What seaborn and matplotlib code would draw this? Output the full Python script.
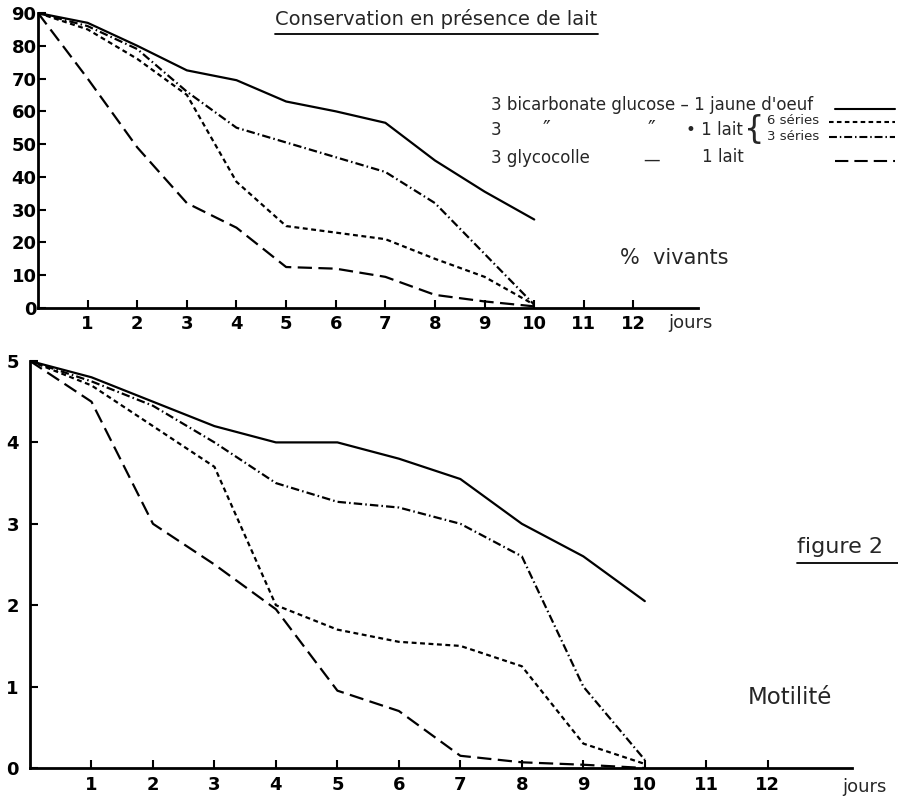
import numpy as np
import pandas as pd
import seaborn as sns
import matplotlib.pyplot as plt
from matplotlib.lines import Line2D

# %%
# data
jours = list(range(11))
series = ["jaune", "lait6", "lait3", "glyco"]

# % vivants
viv_jaune = [90, 87, 80, 72.5, 69.5, 63, 60, 56.5, 45, 35.5, 27]
viv_lait6 = [90, 85, 76, 65, 38.5, 25, 23, 21, 15, 9.5, 1]
viv_lait3 = [90, 86, 79, 66, 55, 50.5, 46, 41.5, 32, 16.5, 1]
viv_glyco = [90, 70, 49, 32, 24.5, 12.5, 12, 9.5, 4, 2, 0.5]

# motilite
mot_jaune = [5, 4.8, 4.5, 4.2, 4.0, 4.0, 3.8, 3.55, 3.0, 2.6, 2.05]
mot_lait6 = [5, 4.7, 4.2, 3.7, 2.0, 1.7, 1.55, 1.5, 1.25, 0.3, 0.05]
mot_lait3 = [5, 4.75, 4.45, 4.0, 3.5, 3.27, 3.2, 3.0, 2.6, 1.0, 0.1]
mot_glyco = [5, 4.5, 3.0, 2.5, 1.95, 0.95, 0.7, 0.15, 0.07, 0.04, 0.0]

dash_styles = {
    "jaune": "",
    "lait6": (2.2, 1.6),
    "lait3": (3.8, 1.4, 0.7, 1.4),
    "glyco": (6.4, 2.9),
}

viv = pd.DataFrame(
    {"jour": jours * 4, "serie": np.repeat(series, 11),
     "val": viv_jaune + viv_lait6 + viv_lait3 + viv_glyco}
)
mot = pd.DataFrame(
    {"jour": jours * 4, "serie": np.repeat(series, 11),
     "val": mot_jaune + mot_lait6 + mot_lait3 + mot_glyco}
)

# %%
sns.set_style("ticks")
plt.rcParams["font.family"] = ["DejaVu Sans"]

W, H = 898, 801
fig = plt.figure(figsize=(W / 100, H / 100), dpi=100)


def fbox(x0, y0, x1, y1):
    # pixel box -> figure fraction [left, bottom, width, height]
    return [x0 / W, 1 - y1 / H, (x1 - x0) / W, (y1 - y0) / H]


def fxy(x, y):
    return x / W, 1 - y / H


ax1 = fig.add_axes(fbox(38, 13, 698, 308))
ax2 = fig.add_axes(fbox(30, 361, 852, 768))

for ax, df in [(ax1, viv), (ax2, mot)]:
    sns.lineplot(data=df, x="jour", y="val", style="serie", dashes=dash_styles,
                 color="black", linewidth=1.6, legend=False, ax=ax)
    ax.set_xlabel("")
    ax.set_ylabel("")
    sns.despine(ax=ax)
    for s in ["left", "bottom"]:
        ax.spines[s].set_linewidth(2)
        ax.spines[s].set_color("black")
    ax.set_xticks(range(1, 13))
    ax.tick_params(axis="both", direction="in", length=6, width=1.5,
                   labelsize=13, colors="black")
    for lab in ax.get_xticklabels() + ax.get_yticklabels():
        lab.set_fontweight("bold")

ax1.set_xlim(0, 13.3)
ax1.set_ylim(0, 90)
ax1.set_yticks(range(0, 91, 10))
ax1.tick_params(axis="y", pad=1)
ax1.tick_params(axis="x", pad=5)

ax2.set_xlim(0, 13.37)
ax2.set_ylim(0, 5)
ax2.set_yticks(range(0, 6))
ax2.tick_params(axis="y", pad=8)
ax2.tick_params(axis="x", pad=6)

# axis end labels
fig.text(*fxy(668, 323), "jours", fontsize=13, va="center")
fig.text(*fxy(842, 787), "jours", fontsize=13, va="center")

# title with underline
fig.text(*fxy(436, 19), "Conservation en présence de lait", fontsize=14,
         ha="center", va="center")
fig.add_artist(Line2D([275 / W, 598 / W], [1 - 34 / H, 1 - 34 / H],
                      color="black", lw=1.3))

# legend block
fs = 12
fig.text(*fxy(491, 105), "3 bicarbonate glucose – 1 jaune d'oeuf", fontsize=fs, va="center")
fig.text(*fxy(491, 130), "3", fontsize=fs, va="center")
fig.text(*fxy(543, 130), "\u2033", fontsize=15, va="center")
fig.text(*fxy(648, 130), "\u2033", fontsize=15, va="center")
fig.text(*fxy(686, 130), "• 1 lait", fontsize=fs, va="center")
fig.text(*fxy(744, 130), "{", fontsize=23, va="center")
fig.text(*fxy(767, 120), "6 séries", fontsize=9.5, va="center")
fig.text(*fxy(767, 137), "3 séries", fontsize=9.5, va="center")
fig.text(*fxy(491, 158), "3 glycocolle", fontsize=fs, va="center")
fig.text(*fxy(643, 160), "—", fontsize=fs, va="center")
fig.text(*fxy(702, 157), "1 lait", fontsize=fs, va="center")

samples = [("jaune", 835, 109), ("lait6", 829, 122), ("lait3", 829, 137), ("glyco", 835, 161)]
for key, x0, y in samples:
    ln = Line2D([x0 / W, 895 / W], [1 - y / H, 1 - y / H], color="black", lw=1.5)
    if dash_styles[key]:
        ln.set_dashes(dash_styles[key])
    fig.add_artist(ln)

fig.text(*fxy(620, 258), "%  vivants", fontsize=15, va="center")
fig.text(*fxy(797, 547), "figure 2", fontsize=16, va="center")
fig.add_artist(Line2D([797 / W, 898 / W], [1 - 563 / H, 1 - 563 / H],
                      color="black", lw=1.3))
fig.text(*fxy(748, 698), "Motilité", fontsize=16.5, va="center")

fig.savefig("out.png", dpi=100, facecolor="white")
